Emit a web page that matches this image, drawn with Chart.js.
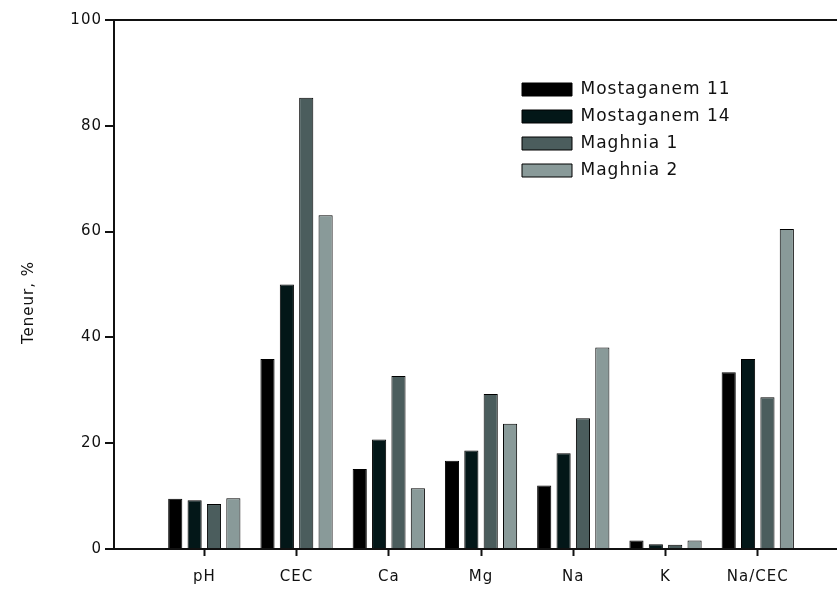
<!DOCTYPE html>
<html>
<head>
<meta charset="utf-8">
<script src="https://cdn.jsdelivr.net/npm/chart.js@4"></script>
<style>
  html, body { margin: 0; padding: 0; background: #fff; overflow: hidden; }
  #wrap { width: 837px; height: 593px; }
</style>
</head>
<body>
<div id="wrap"><canvas id="c"></canvas></div>
<script>
// Soil parameters per sample
const categories = ['pH', 'CEC', 'Ca', 'Mg', 'Na', 'K', 'Na/CEC'];
const seriesNames = ['Mostaganem 11', 'Mostaganem 14', 'Maghnia 1', 'Maghnia 2'];
const mostaganem11 = [9.5, 35.9, 15.1, 16.7, 12.0, 1.6, 33.4];
const mostaganem14 = [9.2, 50.0, 20.7, 18.6, 18.1, 0.9, 35.9];
const maghnia1     = [8.5, 85.3, 32.7, 29.3, 24.7, 0.8, 28.7];
const maghnia2     = [9.6, 63.1, 11.5, 23.7, 38.1, 1.6, 60.5];
const yTicks = [0, 20, 40, 60, 80, 100];

const seriesValues = [mostaganem11, mostaganem14, maghnia1, maghnia2];
const seriesColors = ['#000000', '#031718', '#4b5d5d', '#899a99'];

const FONT = "'DejaVu Sans', sans-serif";
const INK = '#111111';

// wide glyph spacing used for all text on the canvas
const textSpacing = {
  id: 'textSpacing',
  beforeUpdate(chart) { chart.ctx.letterSpacing = '1px'; },
  beforeDraw(chart) { chart.ctx.letterSpacing = '1px'; }
};

// legend sits inside the plot, upper right; axis title sits a little low
const placement = {
  id: 'placement',
  afterLayout(chart) {
    const lg = chart.legend;
    lg.left = 512; lg.top = 71; lg.right = 837; lg.bottom = 200;
    lg.width = lg.right - lg.left; lg.height = lg.bottom - lg.top;
    const y = chart.scales.y;
    if (!y._titleShifted) {
      const orig = y.drawTitle;
      y.drawTitle = function () {
        this.ctx.save();
        this.ctx.translate(0, 18);
        orig.apply(this, arguments);
        this.ctx.restore();
      };
      y._titleShifted = true;
    }
  }
};

const datasets = seriesNames.map((name, s) => ({
  label: name,
  data: seriesValues[s].map((v, i) => ({ x: i, y: v })),
  backgroundColor: seriesColors[s],
  borderColor: '#000000',
  borderWidth: 1,
  categoryPercentage: 0.84,
  barPercentage: 0.73
}));

new Chart(document.getElementById('c'), {
  type: 'bar',
  data: { datasets },
  plugins: [textSpacing, placement],
  options: {
    responsive: true,
    maintainAspectRatio: false,
    animation: false,
    layout: { padding: { top: 20, right: 0, bottom: 0, left: 0 } },
    plugins: {
      tooltip: { enabled: false },
      legend: {
        position: 'chartArea',
        align: 'start',
        labels: {
          boxWidth: 50,
          boxHeight: 13,
          padding: 10,
          color: INK,
          font: { family: FONT, size: 17 }
        }
      }
    },
    scales: {
      x: {
        type: 'linear',
        min: -0.979,
        max: 6.859,
        offset: false,
        afterBuildTicks(axis) { axis.ticks = categories.map((_, i) => ({ value: i })); },
        afterFit(axis) { axis.height = 44; },
        ticks: {
          autoSkip: false,
          maxRotation: 0,
          padding: 12,
          color: INK,
          font: { family: FONT, size: 15 },
          callback: (v) => categories[v] ?? ''
        },
        grid: { offset: false, drawOnChartArea: false, tickLength: 7, tickColor: '#111', tickWidth: 2 },
        border: { display: true, color: '#111', width: 2 }
      },
      y: {
        min: 0,
        max: 100,
        afterBuildTicks(axis) { axis.ticks = yTicks.map(v => ({ value: v })); },
        afterFit(axis) { axis.width = 114; },
        ticks: {
          padding: 3,
          color: INK,
          font: { family: FONT, size: 15 }
        },
        grid: {
          tickLength: 9,
          tickColor: '#111',
          tickWidth: 2,
          lineWidth: 2,
          color: (ctx) => (ctx.tick && ctx.tick.value === 100 ? '#111' : 'rgba(0,0,0,0)')
        },
        border: { display: true, color: '#111', width: 2 },
        title: {
          display: true,
          text: 'Teneur, %',
          color: INK,
          font: { family: FONT, size: 15 },
          padding: { top: 20, bottom: 0 }
        }
      }
    }
  }
});
</script>
</body>
</html>
